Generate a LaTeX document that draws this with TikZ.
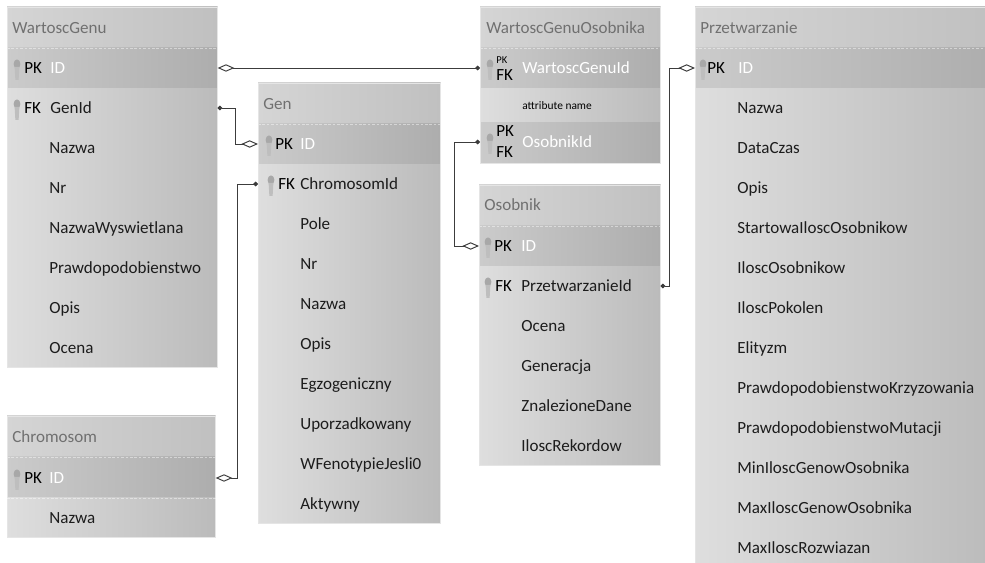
\documentclass[tikz,border=0pt]{standalone}
\usepackage{fontspec}
\setmainfont{Carlito}
\usetikzlibrary{arrows.meta,calc}
\definecolor{bodyleft}{HTML}{DEDEDE}
\definecolor{bodyright}{HTML}{BBBBBB}
\definecolor{hdrleft}{HTML}{D5D5D5}
\definecolor{hdrright}{HTML}{C0C0C0}
\definecolor{pkleft}{HTML}{CBCBCB}
\definecolor{pkright}{HTML}{ADADAD}
\definecolor{hdrtext}{HTML}{707070}
\definecolor{fieldtext}{HTML}{1C1C1C}
\definecolor{linegray}{HTML}{3C3C3C}
\definecolor{keygray}{HTML}{A8A8A8}
\begin{document}
\begin{tikzpicture}[x=0.02cm,y=-0.02cm,
    entity/.style={anchor=north west,inner sep=0pt,left color=bodyleft,right color=bodyright},
    hdrband/.style={left color=hdrleft,right color=hdrright},
    pkband/.style={left color=pkleft,right color=pkright},
    boxline/.style={draw=white!80!gray,line width=0.5pt},
    sepline/.style={draw=white,draw opacity=0.45,dash pattern=on 1.5pt off 1pt,line width=0.4pt},
    hdr/.style={anchor=west,inner sep=0pt,text=hdrtext,font=\fontsize{9.7}{11}\selectfont,text height=6.3pt,text depth=0pt},
    field/.style={anchor=west,inner sep=0pt,text=fieldtext,font=\fontsize{9.7}{11}\selectfont,text height=6.3pt,text depth=0pt},
    keylbl/.style={field,text=black},
    erline/.style={draw=linegray,line width=0.55pt},
    one/.tip={Circle[length=2.6pt]},
    many/.tip={Diamond[open,length=9.5pt,width=4.2pt]},
    erkey/.pic={
        \fill[keygray] (0,-4) ellipse [x radius=3.4, y radius=4.6];
        \fill[keygray!75!white] (-2.4,-1) -- (2.4,-1) -- (1.6,12) -- (-1.6,12) -- cycle;
    }]
    \useasboundingbox (0,0) rectangle (985,563);
    \clip (0,0) rectangle (985,563);

    % tables
    \node[entity,minimum width=4.2cm,minimum height=7.2cm] (wg) at (7,7) {};
    \node[entity,minimum width=3.64cm,minimum height=8.8cm] (gen) at (258,83) {};
    \node[entity,minimum width=3.6cm,minimum height=3.12cm] (wgo) at (480,7) {};
    \node[entity,minimum width=6cm,minimum height=11.4cm] (prz) at (695,7) {};
    \node[entity,minimum width=3.62cm,minimum height=5.6cm] (os) at (479,185) {};
    \node[entity,minimum width=4.16cm,minimum height=2.42cm] (chrom) at (7,416) {};

    \foreach \b in {wg,gen,wgo,prz,os,chrom} {
        \path[hdrband] (\b.north west) rectangle ($(\b.north east)+(0,41)$);
        \path[pkband] ($(\b.north west)+(0,41)$) rectangle ($(\b.north east)+(0,81)$);
    }
    \path[pkband] ($(wgo.north west)+(0,116)$) rectangle (wgo.south east);
    \foreach \b in {wg,gen,wgo,prz,os,chrom} {
        \draw[sepline] ($(\b.north west)+(0,41)$) -- ($(\b.north east)+(0,41)$);
        \draw[boxline] (\b.north west) rectangle (\b.south east);
    }
    \draw[sepline] ($(chrom.north west)+(0,82)$) -- ($(chrom.north east)+(0,82)$);

    % WartoscGenu
    \node[hdr] (wg-title) at ($(wg.north west)+(5,21)$) {WartoscGenu};
    \pic at ($(wg.north west)+(10,61)$) {erkey};
    \pic at ($(wg.north west)+(10,101)$) {erkey};
    \node[keylbl] (wg-pk) at ($(wg.north west)+(17,61)$) {PK};
    \node[field,text=white] (wg-id) at ($(wg.north west)+(43,61)$) {ID};
    \node[keylbl] (wg-fk) at ($(wg.north west)+(17,101)$) {FK};
    \node[field] (wg-genid) at ($(wg.north west)+(43,101)$) {GenId};
    \foreach \f [count=\k from 3] in {Nazwa,Nr,NazwaWyswietlana,Prawdopodobienstwo,Opis,Ocena}
        \node[field] (wg-\k) at ($(wg.north west)+(42,{21+40*\k})$) {\f};

    % Gen
    \node[hdr] (gen-title) at ($(gen.north west)+(5,21)$) {Gen};
    \pic at ($(gen.north west)+(11,61)$) {erkey};
    \pic at ($(gen.north west)+(13,101)$) {erkey};
    \node[keylbl] (gen-pk) at ($(gen.north west)+(17,61)$) {PK};
    \node[field,text=white] (gen-id) at ($(gen.north west)+(42,61)$) {ID};
    \node[keylbl] (gen-fk) at ($(gen.north west)+(20,101)$) {FK};
    \node[field] (gen-chromid) at ($(gen.north west)+(42,101)$) {ChromosomId};
    \foreach \f [count=\k from 3] in {Pole,Nr,Nazwa,Opis,Egzogeniczny,Uporzadkowany,WFenotypieJesli0,Aktywny}
        \node[field] (gen-\k) at ($(gen.north west)+(42,{21+40*\k})$) {\f};

    % WartoscGenuOsobnika
    \node[hdr] (wgo-title) at ($(wgo.north west)+(6,21)$) {WartoscGenuOsobnika};
    \pic at ($(wgo.north west)+(10,61)$) {erkey};
    \pic at ($(wgo.north west)+(10,135)$) {erkey};
    \node[keylbl,font=\fontsize{6}{6}\selectfont,text height=4pt] (wgo-pk1) at ($(wgo.north west)+(16,53)$) {PK};
    \node[keylbl] (wgo-fk1) at ($(wgo.north west)+(16,68)$) {FK};
    \node[field,text=white] (wgo-wgid) at ($(wgo.north west)+(42,61)$) {WartoscGenuId};
    \node[field,font=\fontsize{6.5}{7}\selectfont,text=black,text height=4.4pt] (wgo-attr) at ($(wgo.north west)+(42,99)$) {attribute name};
    \node[keylbl] (wgo-pk2) at ($(wgo.north west)+(16,124)$) {PK};
    \node[keylbl] (wgo-fk2) at ($(wgo.north west)+(16,145)$) {FK};
    \node[field,text=white] (wgo-osid) at ($(wgo.north west)+(42,135)$) {OsobnikId};

    % Przetwarzanie
    \node[hdr] (prz-title) at ($(prz.north west)+(5,21)$) {Przetwarzanie};
    \pic at ($(prz.north west)+(8,61)$) {erkey};
    \node[keylbl] (prz-pk) at ($(prz.north west)+(12,61)$) {PK};
    \node[field,text=white] (prz-id) at ($(prz.north west)+(43,61)$) {ID};
    \foreach \f [count=\k from 2] in {Nazwa,DataCzas,Opis,StartowaIloscOsobnikow,IloscOsobnikow,IloscPokolen,Elityzm,PrawdopodobienstwoKrzyzowania,PrawdopodobienstwoMutacji,MinIloscGenowOsobnika,MaxIloscGenowOsobnika,MaxIloscRozwiazan}
        \node[field] (prz-\k) at ($(prz.north west)+(42,{21+40*\k})$) {\f};

    % Osobnik
    \node[hdr] (os-title) at ($(os.north west)+(5,20)$) {Osobnik};
    \pic at ($(os.north west)+(9,61)$) {erkey};
    \pic at ($(os.north west)+(9,101)$) {erkey};
    \node[keylbl] (os-pk) at ($(os.north west)+(15,61)$) {PK};
    \node[field,text=white] (os-id) at ($(os.north west)+(42,61)$) {ID};
    \node[keylbl] (os-fk) at ($(os.north west)+(16,101)$) {FK};
    \node[field] (os-przid) at ($(os.north west)+(42,101)$) {PrzetwarzanieId};
    \foreach \f [count=\k from 3] in {Ocena,Generacja,ZnalezioneDane,IloscRekordow}
        \node[field] (os-\k) at ($(os.north west)+(42,{21+40*\k})$) {\f};

    % Chromosom
    \node[hdr] (chrom-title) at ($(chrom.north west)+(5,21)$) {Chromosom};
    \pic at ($(chrom.north west)+(10,62)$) {erkey};
    \node[keylbl] (chrom-pk) at ($(chrom.north west)+(17,62)$) {PK};
    \node[field,text=white] (chrom-id) at ($(chrom.north west)+(42,62)$) {ID};
    \node[field] (chrom-2) at ($(chrom.north west)+(42,102)$) {Nazwa};

    % relations
    \draw[erline,many-one] (wg.east |- wg-id) -- (wgo.west |- wgo-wgid);
    \draw[erline,one-many] (wg.east |- wg-genid) -- ++(18,0) |- (gen.west |- gen-id);
    \draw[erline,one-many] (gen.west |- gen-chromid) -- ++(-21,0) |- (chrom.east |- chrom-id);
    \draw[erline,one-many] (wgo.west |- wgo-osid) -- ++(-26,0) |- (os.west |- os-id);
    \draw[erline,one-many] (os.east |- os-przid) -- ++(9,0) |- (prz.west |- prz-id);
\end{tikzpicture}
\end{document}
